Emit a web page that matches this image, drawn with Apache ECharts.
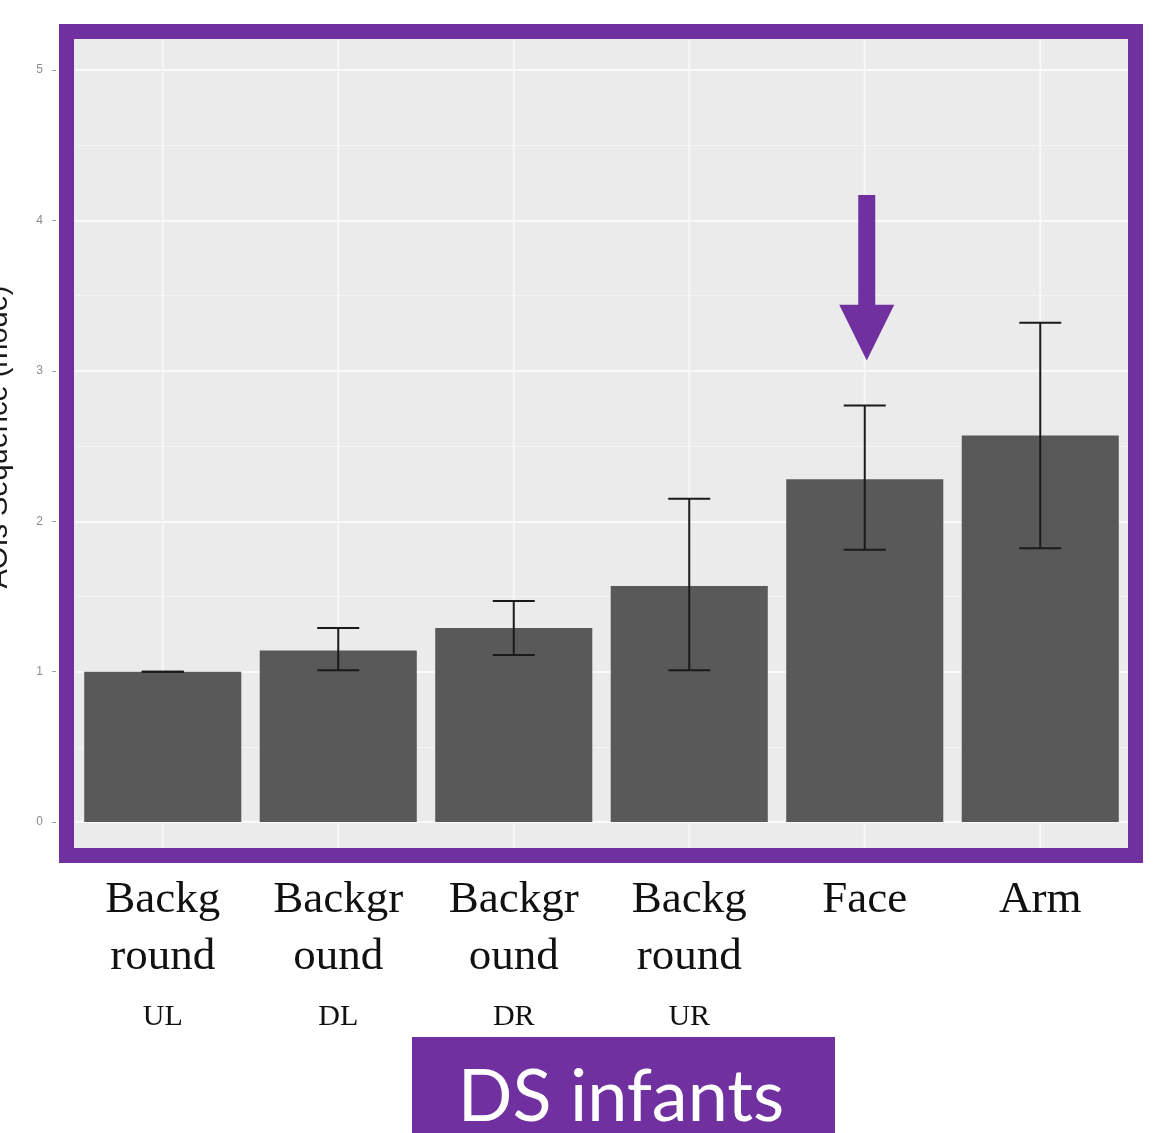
<!DOCTYPE html>
<html>
<head>
<meta charset="utf-8">
<script src="https://cdn.jsdelivr.net/npm/echarts@6/dist/echarts.min.js"></script>
<style>
  html, body { margin: 0; padding: 0; background: #ffffff; }
  #chart { width: 1170px; height: 1133px; }
</style>
</head>
<body>
<div id="chart"></div>
<script>
// ---- data ----
const categories = ['Background UL', 'Background DL', 'Background DR', 'Background UR', 'Face', 'Arm'];
const labelLine1 = ['Backg', 'Backgr', 'Backgr', 'Backg', 'Face', 'Arm'];
const labelLine2 = ['round', 'ound', 'ound', 'round', '', ''];
const labelLine3 = ['UL', 'DL', 'DR', 'UR', '', ''];
const values = [1.0, 1.14, 1.29, 1.57, 2.28, 2.57];
const errLow = [1.0, 1.01, 1.11, 1.01, 1.81, 1.82];
const errHigh = [1.0, 1.29, 1.47, 2.15, 2.77, 3.32];
const yTitle = 'AOIs Sequence (mode)';
const badgeText = 'DS infants';
// arrow annotation above "Face": [category index, top value, head start value, tip value]
const arrowData = [[4, 4.17, 3.44, 3.07]];

const errorData = categories.map((c, i) => [i, errLow[i], errHigh[i]]);
const gridLineData = categories.map((c, i) => [i]);

const PURPLE = '#7030A0';

const chart = echarts.init(document.getElementById('chart'), null, { renderer: 'canvas' });

const option = {
  backgroundColor: '#ffffff',
  animation: false,
  grid: { left: 75, right: 42, top: -5, bottom: 311, containLabel: false, outerBoundsMode: 'none' },
  xAxis: {
    type: 'category',
    data: categories,
    boundaryGap: true,
    axisLine: { show: false },
    axisTick: { show: false },
    splitLine: { show: false },
    axisLabel: {
      margin: 50,
      interval: 0,
      formatter: function (v, idx) {
        let s = '{a|' + labelLine1[idx] + '}';
        if (labelLine2[idx]) s += '\n{a|' + labelLine2[idx] + '}';
        if (labelLine3[idx]) s += '\n{b|' + labelLine3[idx] + '}';
        return s;
      },
      rich: {
        a: { fontFamily: '"Liberation Serif", "DejaVu Serif", serif', fontSize: 45, lineHeight: 57, color: '#111111' },
        b: { fontFamily: '"Liberation Serif", "DejaVu Serif", serif', fontSize: 30, lineHeight: 62, color: '#111111' }
      }
    }
  },
  yAxis: {
    type: 'value',
    min: 0,
    max: 5.5,
    interval: 1,
    offset: 19,
    axisLine: { show: false },
    axisTick: { show: true, length: 4, lineStyle: { color: '#a0a0a0', width: 1 } },
    axisLabel: { margin: 13, fontSize: 12, color: '#8c8c8c', fontFamily: '"Liberation Sans", Arial, sans-serif', showMaxLabel: false },
    splitLine: { show: true, lineStyle: { color: '#ffffff', width: 1.5 } },
    minorTick: { show: false, splitNumber: 2 },
    minorSplitLine: { show: true, lineStyle: { color: '#f4f4f4', width: 1 } }
  },
  series: [
    {
      type: 'custom',
      name: 'vgrid',
      z: 1,
      silent: true,
      data: gridLineData,
      encode: { x: 0 },
      renderItem: function (params, api) {
        const p = api.coord([api.value(0), 0]);
        const cs = params.coordSys;
        return {
          type: 'line',
          shape: { x1: p[0], y1: Math.max(cs.y, 40), x2: p[0], y2: cs.y + cs.height + 26 },
          style: { stroke: '#f7f7f7', lineWidth: 2 }
        };
      }
    },
    {
      type: 'bar',
      name: 'mode',
      data: values,
      barCategoryGap: '10.5%',
      z: 2,
      itemStyle: { color: '#595959' }
    },
    {
      type: 'custom',
      name: 'error',
      z: 3,
      data: errorData,
      encode: { x: 0, y: [1, 2] },
      renderItem: function (params, api) {
        const i = api.value(0);
        const lo = api.coord([i, api.value(1)]);
        const hi = api.coord([i, api.value(2)]);
        const hw = 21;
        const st = { stroke: '#1a1a1a', lineWidth: 2 };
        return {
          type: 'group',
          children: [
            { type: 'line', shape: { x1: lo[0], y1: lo[1], x2: hi[0], y2: hi[1] }, style: st },
            { type: 'line', shape: { x1: lo[0] - hw, y1: lo[1], x2: lo[0] + hw, y2: lo[1] }, style: st },
            { type: 'line', shape: { x1: hi[0] - hw, y1: hi[1], x2: hi[0] + hw, y2: hi[1] }, style: st }
          ]
        };
      }
    },
    {
      type: 'custom',
      name: 'arrow',
      z: 4,
      silent: true,
      data: arrowData,
      encode: { x: 0, y: [1, 3] },
      renderItem: function (params, api) {
        const i = api.value(0);
        const top = api.coord([i, api.value(1)]);
        const head = api.coord([i, api.value(2)]);
        const tip = api.coord([i, api.value(3)]);
        const cx = top[0] + 2;
        const sw = 8.5, hw = 27.5;
        return {
          type: 'polygon',
          shape: {
            points: [
              [cx - sw, top[1]], [cx + sw, top[1]], [cx + sw, head[1]],
              [cx + hw, head[1]], [cx, tip[1]], [cx - hw, head[1]],
              [cx - sw, head[1]]
            ]
          },
          style: { fill: PURPLE }
        };
      }
    }
  ],
  graphic: [
    {
      type: 'rect',
      z: -10,
      silent: true,
      shape: { x: 74, y: 39, width: 1055, height: 809 },
      style: { fill: '#EBEBEB' }
    },
    {
      type: 'rect',
      z: 100,
      silent: true,
      shape: { x: 66.5, y: 31.5, width: 1069, height: 824 },
      style: { fill: null, stroke: PURPLE, lineWidth: 15 }
    },
    {
      type: 'text',
      z: 50,
      silent: true,
      x: 13,
      y: 437,
      rotation: Math.PI / 2,
      style: {
        text: yTitle,
        fill: '#1a1a1a',
        font: '29px "Liberation Sans", Arial, sans-serif',
        textAlign: 'center',
        textVerticalAlign: 'bottom'
      }
    },
    {
      type: 'rect',
      z: 100,
      silent: true,
      shape: { x: 412, y: 1037, width: 423, height: 100 },
      style: { fill: PURPLE }
    },
    {
      type: 'text',
      z: 101,
      silent: true,
      x: 621,
      y: 1098,
      style: {
        text: badgeText,
        fill: '#ffffff',
        font: '72px Lato, "Open Sans", sans-serif',
        textAlign: 'center',
        textVerticalAlign: 'middle'
      }
    }
  ]
};

chart.setOption(option);
</script>
</body>
</html>
